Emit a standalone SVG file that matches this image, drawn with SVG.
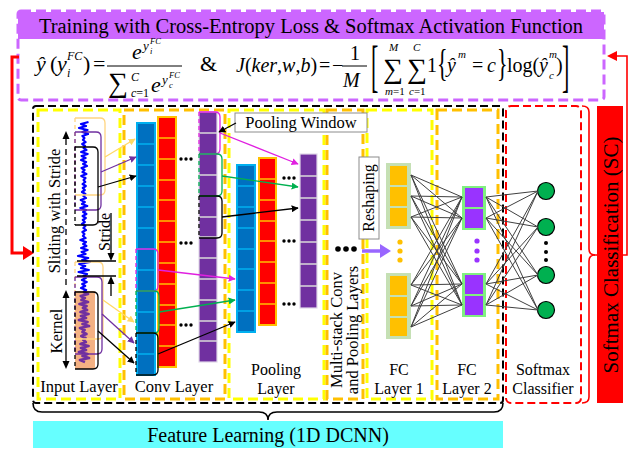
<svg xmlns="http://www.w3.org/2000/svg" width="628" height="449" viewBox="0 0 628 449">
  <style>
    text { font-family: "Liberation Serif", "Times New Roman", serif; fill: #000; }
    .it { font-style: italic; }
    .lbl { font-size: 16.5px; text-anchor: middle; }
    .lbl2 { font-size: 16px; text-anchor: middle; }
    .yl { fill: none; stroke: #FFFF00; stroke-width: 3; stroke-dasharray: 10 5; }
    .orb { fill: none; stroke: #FFC000; stroke-width: 3; stroke-dasharray: 10 5; }
    .colB { fill: #0070C0; stroke: #00B0F0; stroke-width: 2; }
    .divB { fill: none; stroke: #00B0F0; stroke-width: 1.6; }
    .colR { fill: #FF0000; stroke: #FFC000; stroke-width: 2; }
    .divR { fill: none; stroke: #FFC000; stroke-width: 1.6; }
    .colP { fill: #7030A0; stroke: #E0D8E8; stroke-width: 1.2; }
    .divP { fill: none; stroke: #D9D9D9; stroke-width: 1.4; }
    .brk { fill: none; stroke-width: 1.3; }
    .brkd { fill: none; stroke-width: 1.3; stroke-dasharray: 4 3; }
    .tag { fill: #fff; stroke: #8C8C8C; stroke-width: 1; }
    .net { fill: none; stroke: #404040; stroke-width: 1; }
    .dot { fill: #000; }
    .s { font-size: 12px; }
    .ss { font-size: 8.5px; }
  </style>
  <defs>
    <marker id="ah-k" viewBox="0 0 10 10" refX="9" refY="5" markerWidth="7" markerHeight="7" markerUnits="userSpaceOnUse" orient="auto"><path d="M0,0 L10,5 L0,10 z" fill="#000"/></marker>
    <marker id="ah-m" viewBox="0 0 10 10" refX="9" refY="5" markerWidth="7" markerHeight="7" markerUnits="userSpaceOnUse" orient="auto"><path d="M0,0 L10,5 L0,10 z" fill="#E020E0"/></marker>
    <marker id="ah-g" viewBox="0 0 10 10" refX="9" refY="5" markerWidth="7" markerHeight="7" markerUnits="userSpaceOnUse" orient="auto"><path d="M0,0 L10,5 L0,10 z" fill="#00B050"/></marker>
    <marker id="ah-p" viewBox="0 0 10 10" refX="9" refY="5" markerWidth="7" markerHeight="7" markerUnits="userSpaceOnUse" orient="auto"><path d="M0,0 L10,5 L0,10 z" fill="#7030A0"/></marker>
    <marker id="ah-o" viewBox="0 0 10 10" refX="9" refY="5" markerWidth="7" markerHeight="7" markerUnits="userSpaceOnUse" orient="auto"><path d="M0,0 L10,5 L0,10 z" fill="#FFD966"/></marker>
  </defs>

  <rect width="628" height="449" fill="#fff"/>

  <!-- training objective banner -->
  <g id="training">
    <rect x="18" y="12" width="586" height="27" fill="#CC66FF"/>
    <rect x="18" y="11" width="586" height="89" rx="3" fill="none" stroke="#CC66FF" stroke-width="3" stroke-dasharray="10 5"/>
    <text x="311" y="33" font-size="20.5" text-anchor="middle">Training with Cross-Entropy Loss &amp; Softmax Activation Function</text>
  </g>

  <!-- softmax activation and cross-entropy loss -->
  <g id="formulas">
    <line x1="107" y1="66" x2="182" y2="66" stroke="#000" stroke-width="1"/>
    <text font-size="22"><tspan x="36" y="71" class="it">ŷ</tspan><tspan x="50" y="71">(</tspan><tspan x="57" y="71" class="it">y</tspan><tspan x="67" y="60" class="it s">FC</tspan><tspan x="67" y="77" class="it s">i</tspan><tspan x="83" y="71">)</tspan><tspan x="93" y="71">=</tspan><tspan x="132" y="59" class="it">e</tspan><tspan x="143" y="50" class="it" font-size="13">y</tspan><tspan x="150" y="44" class="it ss">FC</tspan><tspan x="150" y="54" class="it ss">i</tspan><tspan x="108" y="92" font-size="28">∑</tspan><tspan x="131" y="81" class="it s">C</tspan><tspan x="131" y="97" class="it s">c</tspan><tspan class="s">=1</tspan><tspan x="151" y="92" class="it">e</tspan><tspan x="162" y="84" class="it" font-size="13">y</tspan><tspan x="169" y="78" class="it ss">FC</tspan><tspan x="169" y="88" class="it ss">c</tspan></text>

    <text x="200" y="71" font-size="22">&amp;</text>

    <line x1="342" y1="66" x2="367" y2="66" stroke="#000" stroke-width="1"/>
    <text font-size="20"><tspan x="236" y="72" class="it">J</tspan><tspan>(</tspan><tspan class="it">ker</tspan><tspan>,</tspan><tspan class="it">w</tspan><tspan>,</tspan><tspan class="it">b</tspan><tspan>)</tspan><tspan x="319" y="72">=</tspan><tspan x="332" y="72">−</tspan><tspan x="350" y="60">1</tspan><tspan x="343" y="87" class="it">M</tspan><tspan x="383" y="78" font-size="28">∑</tspan><tspan x="389" y="51" class="it" font-size="11">M</tspan><tspan x="385" y="95" class="it" font-size="11">m</tspan><tspan font-size="11">=1</tspan><tspan x="407" y="78" font-size="28">∑</tspan><tspan x="413" y="51" class="it" font-size="11">C</tspan><tspan x="409" y="95" class="it" font-size="11">c</tspan><tspan font-size="11">=1</tspan><tspan x="427" y="72">1</tspan><tspan x="447" y="72" class="it">ŷ</tspan><tspan x="458" y="58" class="it" font-size="11">m</tspan><tspan x="472" y="72">=</tspan><tspan x="487" y="72" class="it">c</tspan><tspan x="507" y="72">log(</tspan><tspan x="539" y="72" class="it">ŷ</tspan><tspan x="549" y="58" class="it" font-size="11">m</tspan><tspan x="549" y="79" class="it" font-size="11">c</tspan><tspan x="556" y="72">)</tspan></text>
    <text transform="translate(371,85) scale(1,2.6)" font-size="22">[</text>
    <text transform="translate(437,76) scale(1,1.7)" font-size="22">{</text>
    <text transform="translate(497,76) scale(1,1.7)" font-size="22">}</text>
    <text transform="translate(562,85) scale(1,2.6)" font-size="22">]</text>
  </g>

  <!-- feedback loop from the loss back into the network -->
  <g id="feedback">
    <path d="M19,57 H12 V253 H26" fill="none" stroke="#FF0000" stroke-width="3"/>
    <path d="M34,253 L23,246 L23,260 z" fill="#FF0000"/>
    <path d="M594,255 H627 V56 H614" fill="none" stroke="#FF0000" stroke-width="1.6"/>
    <path d="M607,56 L617,51 L617,61 z" fill="#FF0000"/>
  </g>

  <!-- feature-learning frame and per-layer frames -->
  <g id="frames">
    <rect x="33" y="106" width="470" height="297" rx="3" fill="none" stroke="#000" stroke-width="2" stroke-dasharray="8 4"/>
    <rect x="38" y="110" width="82" height="289" class="yl"/>
    <rect x="124" y="110" width="101" height="289" class="orb"/>
    <rect x="229" y="110" width="95" height="289" class="yl"/>
    <rect x="327" y="110" width="36" height="289" class="orb"/>
    <rect x="367" y="110" width="65" height="289" class="yl"/>
    <rect x="437" y="110" width="61" height="289" class="orb"/>
    <rect x="506" y="106" width="75" height="297" rx="5" fill="none" stroke="#FF0000" stroke-width="2" stroke-dasharray="8 4"/>
  </g>

  <!-- input layer: raw signal, kernel and sliding windows -->
  <g id="input-layer">
    <rect x="75" y="291" width="20" height="78" fill="#F4B183"/>
    <polyline fill="none" stroke="#0000FF" stroke-width="2.2" stroke-linejoin="round" points="88.5,122 81,124 86,126 79,128 87.5,130 82.5,132 88,134 82.4,136 84.4,138 83,140 85.6,142 82.2,144 85,146 83.6,148 86.4,150 81.2,152 87.6,154 81.6,156 85.6,158 81,160 86.1,162 83.1,164 87,166 81.6,168 84.6,170 82.5,172 86.4,174 81.3,176 85.5,178 83.6,180 85.2,182 82.6,184 85.8,186 82.8,188 84.8,190 82,192 85.4,194 83.4,196 86,198 80.8,200 84.8,202 82,204 87.2,206 80.4,208 86,210 83.2,212 86.4,214 82.6,216 85.8,218 82.8,220 84.8,222 82,224 85.4,226 83.4,228 86,230 82.4,232 84.4,234 83,236 85.6,238 80.4,240 86,242 83.2,244 86.4,246 81.2,248 87.6,250 81.6,252 85.6,254 78,256 88.2,258 82.2,260 90,262 79.2,264 85.2,266 81,268 88.8,270 78.6,272 87,274 83.4,276 85.8,278 81.9,280 86.7,282 82.2,284 85.2,286 81,288 86.1,290 83.1,292"/>
    <polyline fill="none" stroke="#7030A0" stroke-width="2.8" stroke-linejoin="round" points="83.1,292 88,294 80.8,296 84.8,298 81.5,300 88,302 79.5,304 86.5,306 83,308 87,310 80.5,312 88.5,314 81,316 86,318 79,320 87.5,322 82.5,324 89,326 80,328 84.6,330 82.5,332 86.4,334 81.3,336 85.5,338 83.4,340 85.8,342 80.5,344 88.5,346 81,348 86,350 79,352 87.5,354 82.5,356 89,358 80,360 85,362"/>

    <!-- first window position -->
    <path class="brk" stroke="#FFD580" d="M75,118 H100 Q105,118 105,123 V190 Q105,195 100,195 H75"/>
    <path class="brkd" stroke="#FFD580" d="M75,118 V195"/>
    <path class="brk" stroke="#7030A0" d="M75,132 H96 Q101,132 101,137 V205 Q101,210 96,210 H75"/>
    <path class="brkd" stroke="#7030A0" d="M75,132 V210"/>
    <path class="brk" stroke="#000" d="M75,147 H93 Q98,147 98,152 V220 Q98,225 93,225 H75"/>
    <path class="brkd" stroke="#000" d="M75,147 V225"/>
    <!-- last window position -->
    <path class="brk" stroke="#FFD580" d="M75,262 H98 Q103,262 103,267 V334 Q103,339 98,339 H75"/>
    <path class="brkd" stroke="#FFD580" d="M75,262 V339"/>
    <path class="brk" stroke="#7030A0" d="M75,277 H97 Q102,277 102,282 V349 Q102,354 97,354 H75"/>
    <path class="brkd" stroke="#7030A0" d="M75,277 V354"/>
    <path class="brk" stroke="#000" d="M75,292 H93 Q98,292 98,297 V364 Q98,369 93,369 H75"/>
    <path class="brkd" stroke="#000" d="M75,292 V369"/>

    <!-- sliding and kernel annotations -->
    <text transform="translate(59.5,211) rotate(-90)" font-size="16.5" text-anchor="middle">Sliding with Stride</text>
    <path d="M66,285 V138" fill="none" stroke="#000" stroke-width="1.3" stroke-dasharray="6 4"/>
    <path d="M66,131 L62.5,139 L69.5,139 z" fill="#000"/>
    <text transform="translate(62,331) rotate(-90)" font-size="16.5" text-anchor="middle">Kernel</text>
    <path d="M66,297 V362" fill="none" stroke="#000" stroke-width="1.3"/>
    <path d="M66,290 L62.5,298 L69.5,298 z M66,369 L62.5,361 L69.5,361 z" fill="#000"/>
    <text transform="translate(110,232) rotate(-90)" font-size="16" text-anchor="middle">Stride</text>
    <path d="M77,261 H116 M77,276 H116 M111,213 V254 M111,283 V296" fill="none" stroke="#000" stroke-width="1.3"/>
    <path d="M111,261 L107.5,253 L114.5,253 z M111,276 L107.5,284 L114.5,284 z" fill="#000"/>
    <text x="79" y="392" class="lbl">Input Layer</text>
  </g>

  <!-- convolution layer: feature map, activation, pooled map -->
  <g id="conv-layer">
    <rect x="137" y="123" width="18" height="252" class="colB"/>
    <path class="divB" d="M137,144H155M137,165H155M137,186H155M137,207H155M137,228H155M137,249H155M137,270H155M137,291H155M137,312H155M137,333H155M137,354H155"/>
    <rect x="158" y="117" width="18" height="250" class="colR"/>
    <path class="divR" d="M158,138H176M158,159H176M158,180H176M158,200H176M158,221H176M158,242H176M158,263H176M158,284H176M158,305H176M158,325H176M158,346H176"/>
    <rect x="199" y="112" width="18" height="250" class="colP"/>
    <path class="divP" d="M199,133H217M199,154H217M199,175H217M199,196H217M199,217H217M199,237H217M199,258H217M199,279H217M199,300H217M199,321H217M199,341H217"/>
    <circle cx="181" cy="159" r="1.7" class="dot"/><circle cx="186" cy="159" r="1.7" class="dot"/><circle cx="191" cy="159" r="1.7" class="dot"/>
    <circle cx="181" cy="243" r="1.7" class="dot"/><circle cx="186" cy="243" r="1.7" class="dot"/><circle cx="191" cy="243" r="1.7" class="dot"/>
    <circle cx="181" cy="325" r="1.7" class="dot"/><circle cx="186" cy="325" r="1.7" class="dot"/><circle cx="191" cy="325" r="1.7" class="dot"/>

    <!-- windows over the convolution output -->
    <path class="brk" stroke="#E020E0" d="M136,249 H153 Q158,249 158,254 V286 Q158,291 153,291 H136"/>
    <path class="brkd" stroke="#E020E0" d="M136,249 V291"/>
    <path class="brk" stroke="#00B050" d="M136,291 H154 Q159,291 159,296 V328 Q159,333 154,333 H136"/>
    <path class="brkd" stroke="#00B050" d="M136,291 V333"/>
    <path class="brk" stroke="#000" d="M136,333 H153 Q158,333 158,338 V370 Q158,375 153,375 H136"/>
    <path class="brkd" stroke="#000" d="M136,333 V375"/>

    <!-- pooling windows -->
    <path class="brk" stroke="#E020E0" d="M199,112 H215 Q220,112 220,117 V149 Q220,154 215,154 H199"/>
    <path class="brkd" stroke="#E020E0" d="M199,112 V154"/>
    <path class="brk" stroke="#00B050" d="M199,154 H217 Q222,154 222,159 V191 Q222,196 217,196 H199"/>
    <path class="brkd" stroke="#00B050" d="M199,154 V196"/>
    <path class="brk" stroke="#000" d="M199,196 H217 Q222,196 222,201 V233 Q222,238 217,238 H199"/>
    <path class="brkd" stroke="#000" d="M199,196 V238"/>
    <text x="174" y="392" class="lbl">Conv Layer</text>
  </g>

  <!-- pooling layer -->
  <g id="pooling-layer">
    <rect x="237" y="165" width="18" height="167" class="colB"/>
    <path class="divB" d="M237,186H255M237,207H255M237,228H255M237,249H255M237,269H255M237,290H255M237,311H255"/>
    <rect x="259" y="158" width="17" height="167" class="colR"/>
    <path class="divR" d="M259,179H276M259,200H276M259,221H276M259,241H276M259,262H276M259,283H276M259,304H276"/>
    <rect x="300" y="154" width="17" height="154" class="colP"/>
    <path class="divP" d="M300,176H317M300,198H317M300,220H317M300,242H317M300,264H317M300,286H317"/>
    <circle cx="284" cy="178" r="1.7" class="dot"/><circle cx="289" cy="178" r="1.7" class="dot"/><circle cx="294" cy="178" r="1.7" class="dot"/>
    <circle cx="284" cy="241" r="1.7" class="dot"/><circle cx="289" cy="241" r="1.7" class="dot"/><circle cx="294" cy="241" r="1.7" class="dot"/>
    <circle cx="284" cy="304" r="1.7" class="dot"/><circle cx="289" cy="304" r="1.7" class="dot"/><circle cx="294" cy="304" r="1.7" class="dot"/>
    <text class="lbl2"><tspan x="276" y="375">Pooling</tspan><tspan x="276" y="394">Layer</tspan></text>
  </g>

  <!-- pooling window callout -->
  <g id="pooling-window">
    <rect x="235" y="113" width="132" height="19" class="tag"/>
    <text x="301" y="128" font-size="16.5" text-anchor="middle">Pooling Window</text>
  </g>

  <!-- repeated conv/pooling stages -->
  <g id="multi-stack">
    <circle cx="338" cy="249" r="2.8" class="dot"/><circle cx="346" cy="249" r="2.8" class="dot"/><circle cx="354" cy="249" r="2.8" class="dot"/>
    <text transform="translate(342,330) rotate(-90)" class="lbl"><tspan x="0" y="0">Multi-stack Conv</tspan><tspan x="0" y="16">and Pooling Layers</tspan></text>
  </g>

  <g id="reshaping">
    <rect x="359" y="157" width="20" height="82" class="tag"/>
    <text transform="translate(374,198) rotate(-90)" font-size="16" text-anchor="middle">Reshaping</text>
    <path d="M362,251 H382" fill="none" stroke="#9966FF" stroke-width="3.5"/>
    <path d="M391,251 L380,244 L380,258 z" fill="#9966FF"/>
  </g>

  <!-- fully connected layer 1 -->
  <g id="fc1">
    <rect x="386" y="163" width="25" height="66" fill="#C5E0B4"/>
    <rect x="390" y="166" width="17" height="19" fill="#FFC000"/>
    <rect x="390" y="187" width="17" height="19" fill="#FFC000"/>
    <rect x="390" y="208" width="17" height="18" fill="#FFC000"/>
    <rect x="386" y="273" width="25" height="66" fill="#C5E0B4"/>
    <rect x="390" y="276" width="17" height="19" fill="#FFC000"/>
    <rect x="390" y="297" width="17" height="19" fill="#FFC000"/>
    <rect x="390" y="318" width="17" height="18" fill="#FFC000"/>
    <circle cx="400" cy="242" r="2.6" fill="#FFC000"/><circle cx="400" cy="251" r="2.6" fill="#FFC000"/><circle cx="400" cy="260" r="2.6" fill="#FFC000"/>
    <text class="lbl2"><tspan x="399" y="375">FC</tspan><tspan x="399" y="394">Layer 1</tspan></text>
  </g>

  <!-- fully connected layer 2 -->
  <g id="fc2">
    <rect x="462" y="186" width="24" height="44" fill="#80F080"/>
    <rect x="465" y="188" width="18" height="19" fill="#9933FF"/>
    <rect x="465" y="209" width="18" height="19" fill="#9933FF"/>
    <rect x="462" y="273" width="24" height="44" fill="#80F080"/>
    <rect x="465" y="275" width="18" height="19" fill="#9933FF"/>
    <rect x="465" y="296" width="18" height="19" fill="#9933FF"/>
    <circle cx="477" cy="241" r="2.6" fill="#9933FF"/><circle cx="477" cy="251" r="2.6" fill="#9933FF"/><circle cx="477" cy="260" r="2.6" fill="#9933FF"/>
    <text class="lbl2"><tspan x="467" y="375">FC</tspan><tspan x="467" y="394">Layer 2</tspan></text>
  </g>

  <!-- softmax output units -->
  <g id="softmax">
    <circle cx="546" cy="191" r="8.5" fill="#00B050" stroke="#000" stroke-width="1.2"/>
    <circle cx="546" cy="227" r="8.5" fill="#00B050" stroke="#000" stroke-width="1.2"/>
    <circle cx="546" cy="275" r="8.5" fill="#00B050" stroke="#000" stroke-width="1.2"/>
    <circle cx="546" cy="310" r="8.5" fill="#00B050" stroke="#000" stroke-width="1.2"/>
    <circle cx="546" cy="243" r="2" class="dot"/><circle cx="546" cy="252" r="2" class="dot"/><circle cx="546" cy="260" r="2" class="dot"/>
    <text class="lbl2"><tspan x="543" y="375">Softmax</tspan><tspan x="543" y="394">Classifier</tspan></text>
  </g>

  <!-- classification stage -->
  <g id="sc">
    <path d="M582,106 Q589,106 589,112 V249 Q589,255 595,255 Q589,255 589,261 V397 Q589,403 582,403" fill="none" stroke="#FF0000" stroke-width="1.6"/>
    <rect x="597" y="106" width="26" height="297" fill="#FF0000"/>
    <text transform="translate(617.5,255) rotate(-90)" font-size="21" text-anchor="middle">Softmax Classification (SC)</text>
  </g>

  <!-- feature learning stage -->
  <g id="feature-learning">
    <path d="M33,403 Q33,412 42,412 H259 Q268,412 268,420 Q268,412 277,412 H494 Q503,412 503,403" fill="none" stroke="#000" stroke-width="1.6"/>
    <rect x="33" y="421" width="470" height="27" fill="#66FFFF"/>
    <text x="268" y="442" font-size="20" text-anchor="middle">Feature Learning (1D DCNN)</text>
  </g>

  <g id="connectors">
    <!-- input windows to convolution outputs -->
    <line x1="105" y1="157" x2="135" y2="139" stroke="#FFD966" stroke-width="1.3" marker-end="url(#ah-o)"/>
    <line x1="101" y1="172" x2="136" y2="157" stroke="#7030A0" stroke-width="1.3" marker-end="url(#ah-p)"/>
    <line x1="98" y1="187" x2="136" y2="176" stroke="#000" stroke-width="1.3" marker-end="url(#ah-k)"/>
    <line x1="103" y1="300" x2="134" y2="322" stroke="#FFD966" stroke-width="1.3" marker-end="url(#ah-o)"/>
    <line x1="102" y1="314" x2="134" y2="343" stroke="#7030A0" stroke-width="1.3" marker-end="url(#ah-p)"/>
    <line x1="98" y1="331" x2="134" y2="363" stroke="#000" stroke-width="1.3" marker-end="url(#ah-k)"/>
    <!-- convolution outputs to pooling-layer feature map -->
    <line x1="158" y1="270" x2="235" y2="279" stroke="#E020E0" stroke-width="1.3" marker-end="url(#ah-m)"/>
    <line x1="159" y1="312" x2="235" y2="300" stroke="#00B050" stroke-width="1.3" marker-end="url(#ah-g)"/>
    <line x1="158" y1="354" x2="235" y2="322" stroke="#000" stroke-width="1.3" marker-end="url(#ah-k)"/>
    <!-- pooling windows to pooled cells -->
    <line x1="220" y1="133" x2="298" y2="164" stroke="#E020E0" stroke-width="1.3" marker-end="url(#ah-m)"/>
    <line x1="222" y1="176" x2="298" y2="187" stroke="#00B050" stroke-width="1.3" marker-end="url(#ah-g)"/>
    <line x1="222" y1="217" x2="298" y2="208" stroke="#000" stroke-width="1.3" marker-end="url(#ah-k)"/>
    <line x1="236" y1="123" x2="219" y2="132" stroke="#000" stroke-width="1.2" marker-end="url(#ah-k)"/>
    <!-- dense connections -->
    <path class="net" d="M411 175L462 197M411 175L462 218M411 175L462 284M411 175L462 305M411 196L462 197M411 196L462 218M411 196L462 284M411 196L462 305M411 217L462 197M411 217L462 218M411 217L462 284M411 217L462 305M411 285L462 197M411 285L462 218M411 285L462 284M411 285L462 305M411 306L462 197M411 306L462 218M411 306L462 284M411 306L462 305M411 327L462 197M411 327L462 218M411 327L462 284M411 327L462 305"/>
    <path class="net" d="M486 197L538 191M486 197L538 227M486 197L538 275M486 197L538 310M486 218L538 191M486 218L538 227M486 218L538 275M486 218L538 310M486 284L538 191M486 284L538 227M486 284L538 275M486 284L538 310M486 305L538 191M486 305L538 227M486 305L538 275M486 305L538 310"/>
  </g>
</svg>
